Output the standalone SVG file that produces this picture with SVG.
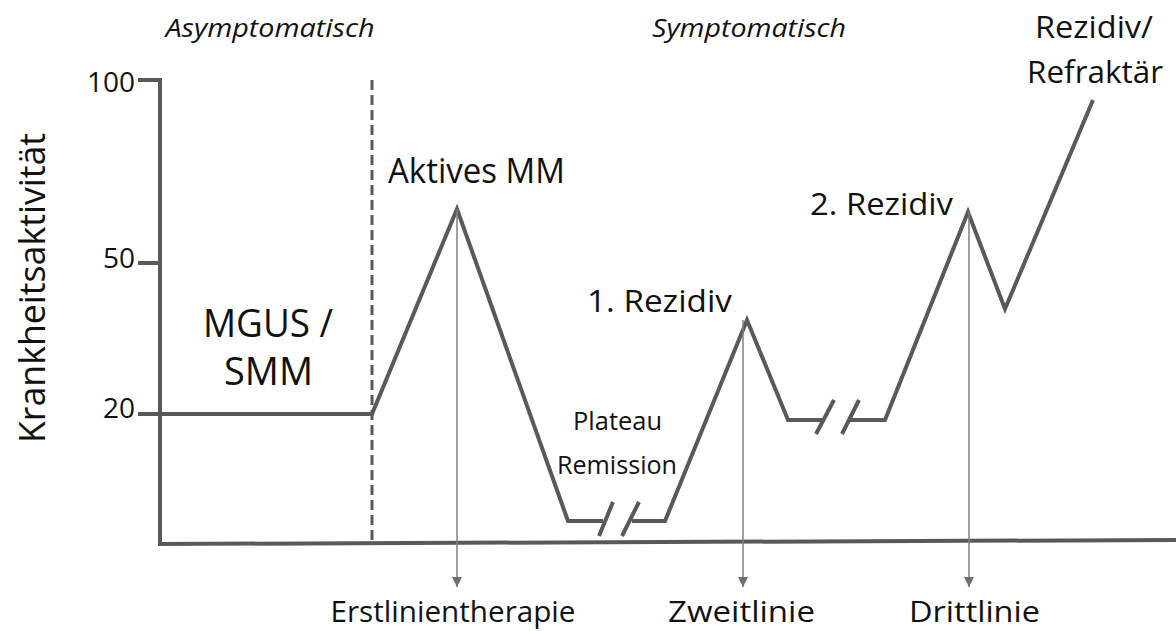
<svg xmlns="http://www.w3.org/2000/svg" width="1176" height="631" viewBox="0 0 1176 631">
<style>
text{font-family:"Open Sans","Noto Sans","Liberation Sans",sans-serif;fill:#111;text-anchor:middle;}
.ax{stroke:#595959;stroke-width:4;fill:none;}
.cv{stroke:#595959;stroke-width:4;fill:none;stroke-linejoin:miter;}
.ar{stroke:#7f7f7f;stroke-width:1.5;fill:none;}
.it{font-style:italic;font-size:25px;}
.tk{font-size:28px;text-anchor:end;}
.bt{font-size:30px;}
.sm{font-size:25px;}
</style>
<defs>
<marker id="ah" viewBox="0 0 10 10" refX="10" refY="5" markerWidth="10" markerHeight="10" markerUnits="userSpaceOnUse" orient="auto"><path d="M0,0 L10,5 L0,10 z" fill="#6f6f6f"/></marker>
</defs>
<rect width="1176" height="631" fill="#fff"/>
<g id="axes">
<path class="ax" d="M138,80 H160 V544 L1176,540"/>
<path class="ax" d="M138,263 H160"/>
<path class="ax" d="M138,414 H160"/>
<line x1="372" y1="80" x2="372" y2="543" stroke="#595959" stroke-width="3" stroke-dasharray="10,5"/>
<text class="tk" x="135" y="92">100</text>
<text class="tk" x="135" y="268">50</text>
<text class="tk" x="135" y="418">20</text>
<text x="-288" y="45" font-size="36" textLength="310" lengthAdjust="spacingAndGlyphs" transform="rotate(-90)">Krankheitsaktivität</text>
<text class="it" x="270" y="37" textLength="209" lengthAdjust="spacingAndGlyphs">Asymptomatisch</text>
<text class="it" x="749" y="37" textLength="194" lengthAdjust="spacingAndGlyphs">Symptomatisch</text>
</g>
<g id="curve">
<path class="cv" d="M160,414 H372 L457,209 L568,521 H603"/>
<path class="cv" d="M632,521 H665 L747,320 L788,420 H822"/>
<path class="cv" d="M848,420 H885 L968,212 L1005,309 L1093,100"/>
<path class="cv" d="M599,536 L613,502 M622,536 L639,502"/>
<path class="cv" d="M816,434 L834,400 M842,434 L859,400"/>
</g>
<g id="connectors">
<line class="ar" x1="457" y1="209" x2="457" y2="587" marker-end="url(#ah)"/>
<line class="ar" x1="743" y1="320" x2="743" y2="587" marker-end="url(#ah)"/>
<line class="ar" x1="969" y1="212" x2="969" y2="587" marker-end="url(#ah)"/>
</g>
<g id="labels">
<text x="268" y="337" font-size="38" textLength="130" lengthAdjust="spacingAndGlyphs">MGUS /</text>
<text x="268.5" y="385" font-size="38" textLength="89" lengthAdjust="spacingAndGlyphs">SMM</text>
<text x="476.5" y="183" font-size="34" textLength="177" lengthAdjust="spacingAndGlyphs">Aktives MM</text>
<text x="659.5" y="312" font-size="31" textLength="145" lengthAdjust="spacingAndGlyphs">1. Rezidiv</text>
<text x="881.5" y="215" font-size="31" textLength="143" lengthAdjust="spacingAndGlyphs">2. Rezidiv</text>
<text class="sm" x="617.5" y="430" textLength="89" lengthAdjust="spacingAndGlyphs">Plateau</text>
<text class="sm" x="617" y="474" textLength="120" lengthAdjust="spacingAndGlyphs">Remission</text>
<text x="1094" y="38" font-size="31" textLength="118" lengthAdjust="spacingAndGlyphs">Rezidiv/</text>
<text x="1095" y="83" font-size="31" textLength="136" lengthAdjust="spacingAndGlyphs">Refraktär</text>
<text class="bt" x="453" y="622" textLength="245" lengthAdjust="spacingAndGlyphs">Erstlinientherapie</text>
<text class="bt" x="741.5" y="622" textLength="147" lengthAdjust="spacingAndGlyphs">Zweitlinie</text>
<text class="bt" x="974.5" y="622" textLength="131" lengthAdjust="spacingAndGlyphs">Drittlinie</text>
</g>
</svg>
